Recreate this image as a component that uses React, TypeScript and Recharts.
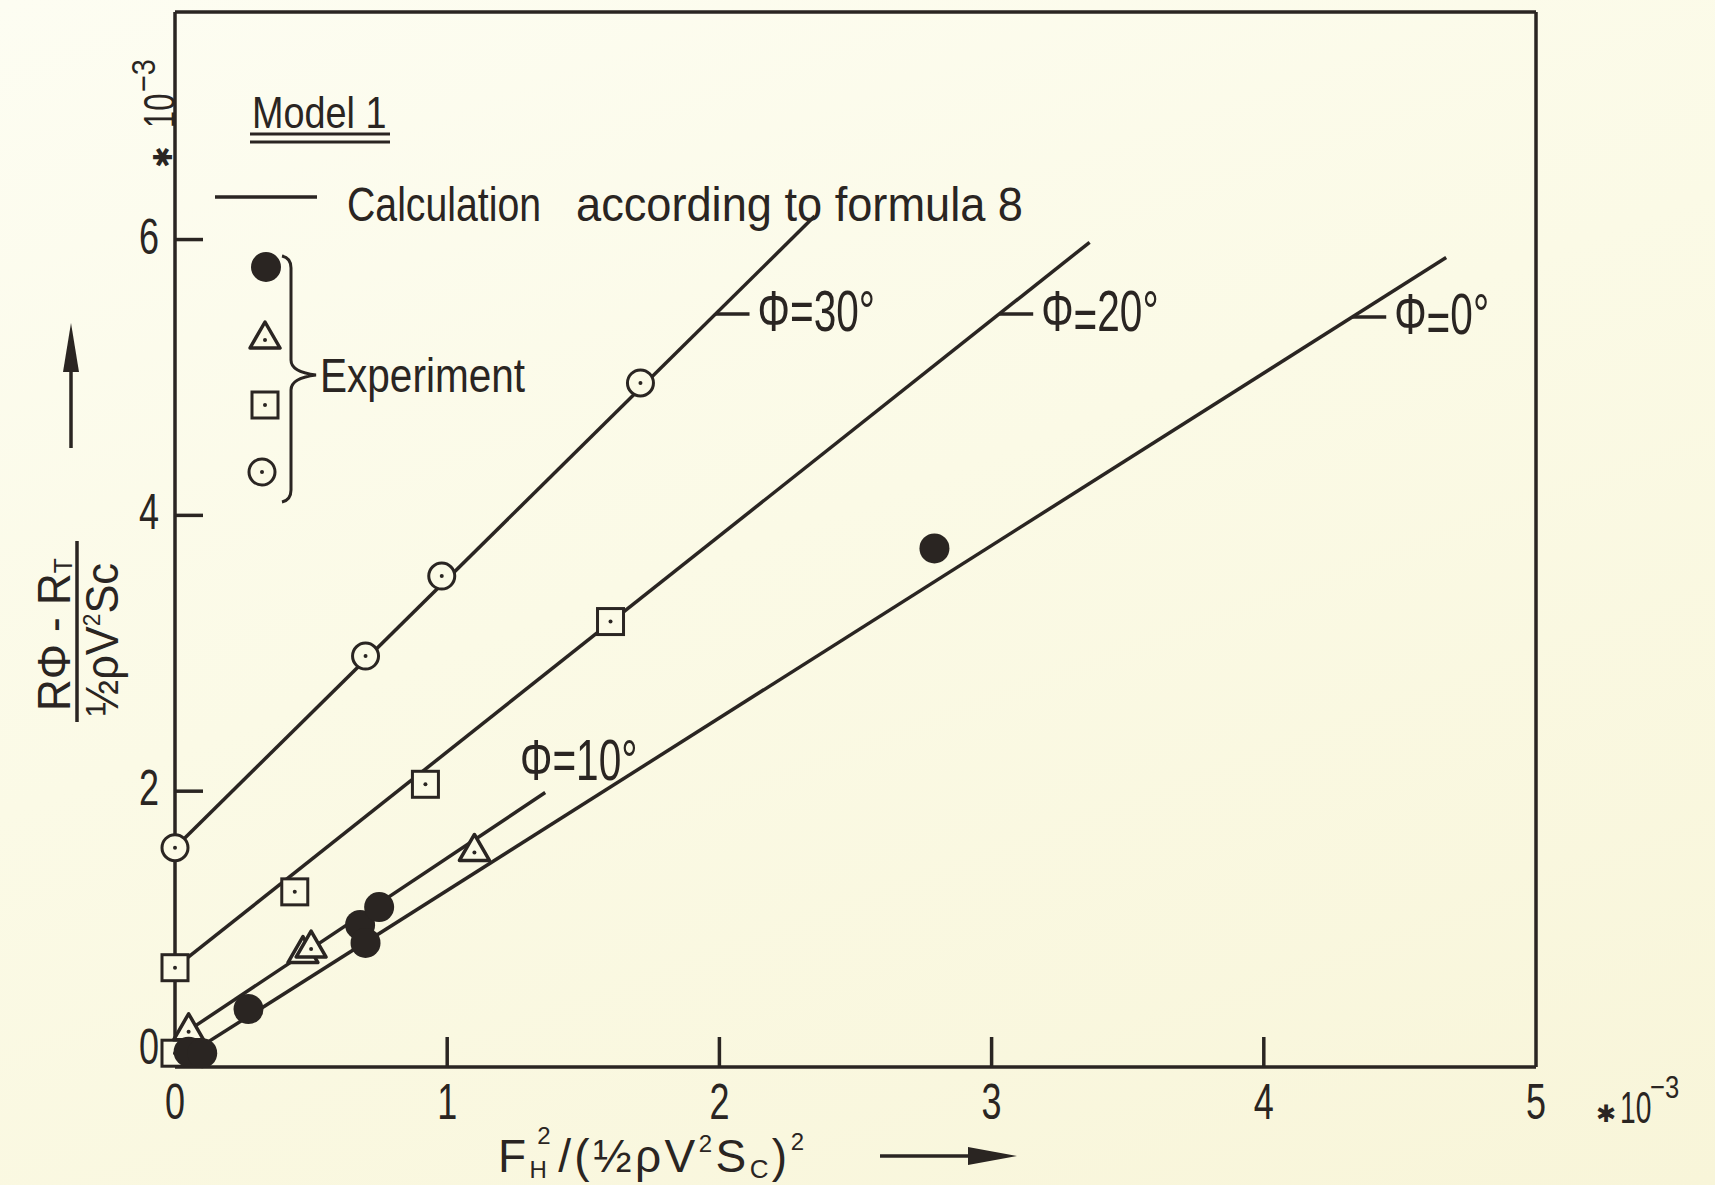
import React from "react";
import { ComposedChart, Line, Scatter, XAxis, YAxis } from "recharts";

// all values in units of 1e-3
const circles30 = [
  { x: 0, y: 1.59 },
  { x: 0.7, y: 2.98 },
  { x: 0.98, y: 3.56 },
  { x: 1.71, y: 4.96 },
];
const squares20 = [
  { x: 0, y: 0.1 },
  { x: 0, y: 0.72 },
  { x: 0.44, y: 1.27 },
  { x: 0.92, y: 2.05 },
  { x: 1.6, y: 3.23 },
];
const triangles10 = [
  { x: 0.05, y: 0.27 },
  { x: 0.47, y: 0.83 },
  { x: 0.5, y: 0.87 },
  { x: 1.1, y: 1.57 },
];
const dots0 = [
  { x: 0.05, y: 0.11 },
  { x: 0.1, y: 0.1 },
  { x: 0.27, y: 0.42 },
  { x: 0.68, y: 1.03 },
  { x: 0.7, y: 0.9 },
  { x: 0.75, y: 1.16 },
  { x: 2.79, y: 3.76 },
];

// formula 8 lines
const calc30 = [{ x: 0, y: 1.59 }, { x: 2.35, y: 6.17 }];
const calc20 = [{ x: 0, y: 0.72 }, { x: 3.36, y: 5.98 }];
const calc10 = [{ x: 0, y: 0.2 }, { x: 1.36, y: 1.99 }];
const calc0 = [{ x: 0, y: 0.03 }, { x: 4.67, y: 5.87 }];

const xTicks = [0, 1, 2, 3, 4, 5];
const xTopTicks = [1, 2, 3, 4];
const yTicks = [0, 2, 4, 6];
const yRightTicks = [2, 4, 6];

const W = 1715;
const H = 1185;
const PL = 175;
const PR = 1536;
const PT = 12;
const PB = 1067;
const XMAX = 5;
const YMAX = 7.65;

const INK = "#2a2522";
const PAPER = "#fbfae6";
const FONT = "'Liberation Sans', Arial, sans-serif";
const SW = 3.5;

const px = (v: number) => PL + (v / XMAX) * (PR - PL);
const yToVal = (p: number) => ((PB - p) / (PB - PT)) * YMAX;

// x on a calc line where it crosses a given pixel row
const xOnLine = (line: { x: number; y: number }[], yPx: number) => {
  const [a, b] = line;
  const v = yToVal(yPx);
  return a.x + ((v - a.y) * (b.x - a.x)) / (b.y - a.y);
};

// condensed lettering: squeeze glyphs horizontally
const T = ({
  x,
  y,
  size = 46,
  sx = 0.78,
  anchor = "start",
  children,
}: {
  x: number;
  y: number;
  size?: number;
  sx?: number;
  anchor?: string;
  children: React.ReactNode;
}) => (
  <text
    transform={`translate(${x} ${y}) scale(${sx} 1)`}
    fontFamily={FONT}
    fontSize={size}
    fill={INK}
    textAnchor={anchor}
  >
    {children}
  </text>
);

const FilledDot = (p: any) => <circle cx={p.cx} cy={p.cy} r={15} fill={INK} />;

const TriangleMark = (p: any) => {
  const { cx, cy } = p;
  const pts = `${cx},${cy - 16} ${cx + 15},${cy + 10} ${cx - 15},${cy + 10}`;
  return (
    <g>
      <polygon points={pts} fill={PAPER} stroke={INK} strokeWidth={3.5} strokeLinejoin="round" />
      <circle cx={cx} cy={cy + 2} r={2} fill={INK} />
    </g>
  );
};

const SquareMark = (p: any) => {
  const { cx, cy } = p;
  return (
    <g>
      <rect x={cx - 13} y={cy - 13} width={26} height={26} fill={PAPER} stroke={INK} strokeWidth={3} />
      <circle cx={cx} cy={cy} r={2} fill={INK} />
    </g>
  );
};

const RingMark = (p: any) => {
  const { cx, cy } = p;
  return (
    <g>
      <circle cx={cx} cy={cy} r={13} fill={PAPER} stroke={INK} strokeWidth={3} />
      <circle cx={cx} cy={cy} r={2} fill={INK} />
    </g>
  );
};

const BottomTick = (props: any) => {
  const { x, y, payload } = props;
  const v = payload.value;
  return (
    <g>
      {v > 0 && v < XMAX && <line x1={x} y1={y} x2={x} y2={y - 30} stroke={INK} strokeWidth={SW} />}
      <T x={x} y={y + 52} size={50} sx={0.72} anchor="middle">
        {v}
      </T>
    </g>
  );
};

const TopTick = (props: any) => {
  const { x, y } = props;
  return <line x1={x} y1={y} x2={x} y2={y + 40} stroke={INK} strokeWidth={SW} />;
};

const LeftTick = (props: any) => {
  const { x, y, payload } = props;
  const v = payload.value;
  return (
    <g>
      {v > 0 && <line x1={x} y1={y} x2={x + 28} y2={y} stroke={INK} strokeWidth={SW} />}
      <T x={x - 16} y={v === 0 ? y - 3 : y + 14} size={50} sx={0.72} anchor="end">
        {v}
      </T>
    </g>
  );
};

const RightTick = (props: any) => {
  const { x, y } = props;
  return <line x1={x} y1={y} x2={x - 33} y2={y} stroke={INK} strokeWidth={SW} />;
};

const LineLabel = ({
  line,
  yPx,
  angle,
  lowEq,
}: {
  line: { x: number; y: number }[];
  yPx: number;
  angle: string;
  lowEq?: boolean;
}) => {
  const x0 = px(xOnLine(line, yPx));
  return (
    <g>
      <line x1={x0} y1={yPx} x2={x0 + 34} y2={yPx} stroke={INK} strokeWidth={SW} />
      <T x={x0 + 42} y={yPx + 17} size={58} sx={0.7}>
        Φ<tspan dy={lowEq ? 8 : 0}>=</tspan>
        <tspan dy={lowEq ? -8 : 0}>{angle}°</tspan>
      </T>
    </g>
  );
};

const Annotations = () => (
  <svg width={W} height={H} style={{ position: "absolute", left: 0, top: 0, pointerEvents: "none" }}>
    {/* legend block */}
    <T x={252} y={128} size={44} sx={0.86}>
      Model 1
    </T>
    <line x1={250} y1={134} x2={390} y2={134} stroke={INK} strokeWidth={3} />
    <line x1={250} y1={142} x2={390} y2={142} stroke={INK} strokeWidth={3} />

    <line x1={215} y1={197} x2={317} y2={197} stroke={INK} strokeWidth={SW} />
    <text x={347} y={221} fontFamily={FONT} fontSize={48} fill={INK} textLength={194} lengthAdjust="spacingAndGlyphs">
      Calculation
    </text>
    <text x={576} y={221} fontFamily={FONT} fontSize={48} fill={INK} textLength={447} lengthAdjust="spacingAndGlyphs">
      according to formula 8
    </text>

    <FilledDot cx={266} cy={267} />
    <TriangleMark cx={265} cy={338} />
    <SquareMark cx={265} cy={405} />
    <RingMark cx={262} cy={472} />
    <path
      d="M282 256 Q291 258 291 268 L291 360 Q291 372 316 375 Q291 378 291 390 L291 490 Q291 500 282 502"
      fill="none"
      stroke={INK}
      strokeWidth={3}
    />
    <text x={320} y={392} fontFamily={FONT} fontSize={48} fill={INK} textLength={205} lengthAdjust="spacingAndGlyphs">
      Experiment
    </text>

    {/* line labels */}
    <LineLabel line={calc30} yPx={314} angle="30" />
    <LineLabel line={calc20} yPx={314} angle="20" lowEq />
    <LineLabel line={calc0} yPx={317} angle="0" lowEq />
    <T x={520} y={780} size={58} sx={0.7}>
      Φ=10°
    </T>

    {/* y scale factor */}
    <g transform="translate(175 172) rotate(-90)">
      <text x={4} y={-3} fontFamily="'DejaVu Sans', sans-serif" fontSize={26} fontWeight="bold" fill={INK}>
        ✱
      </text>
      <T x={44} y={0} size={44} sx={0.7}>
        10
      </T>
      <T x={80} y={-20} size={34} sx={0.85}>
        −3
      </T>
    </g>

    {/* x scale factor */}
    <text x={1596} y={1122} fontFamily="'DejaVu Sans', sans-serif" fontSize={24} fontWeight="bold" fill={INK}>
      ✱
    </text>
    <T x={1620} y={1123} size={44} sx={0.64}>
      10
    </T>
    <T x={1650} y={1098} size={32} sx={0.8}>
      −3
    </T>

    {/* y title */}
    <g transform="translate(77 635) rotate(-90)">
      <text x={-76} y={-7} fontFamily={FONT} fontSize={46} fill={INK} textLength={153} lengthAdjust="spacingAndGlyphs">
        RΦ - R<tspan fontSize={26} dy={2}>T</tspan>
      </text>
      <line x1={-87} y1={0} x2={94} y2={0} stroke={INK} strokeWidth={SW} />
      <text x={-81} y={41} fontFamily={FONT} fontSize={46} fill={INK} textLength={153} lengthAdjust="spacingAndGlyphs">
        ½ρV<tspan fontSize={24} dy={-18}>2</tspan>
        <tspan dy={18}>Sc</tspan>
      </text>
    </g>
    <line x1={71} y1={448} x2={71} y2={360} stroke={INK} strokeWidth={SW} />
    <polygon points="71,323 63,372 79,372" fill={INK} />

    {/* x title */}
    <text x={498} y={1172} fontFamily={FONT} fontSize={46} fill={INK} textLength={306} lengthAdjust="spacing">
      F<tspan fontSize={24} dy={6}>H</tspan>
      <tspan fontSize={24} dx={-13} dy={-34}>2</tspan>
      <tspan dx={4} dy={28}>/(½ρV</tspan>
      <tspan fontSize={24} dy={-20}>2</tspan>
      <tspan dy={20}>S</tspan>
      <tspan fontSize={26} dy={6}>C</tspan>
      <tspan dy={-6}>)</tspan>
      <tspan fontSize={24} dy={-22}>2</tspan>
    </text>
    <line x1={880} y1={1156} x2={975} y2={1156} stroke={INK} strokeWidth={SW} />
    <polygon points="1017,1156 968,1147 968,1165" fill={INK} />
  </svg>
);

const App = () => {
  return (
    <div
      style={{
        position: "absolute",
        left: 0,
        top: 0,
        width: W,
        height: H,
        background: "linear-gradient(160deg, #fdfdf2 0%, #fbfae6 45%, #f8f5d9 100%)",
        overflow: "hidden",
      }}
    >
      <ComposedChart
        width={W}
        height={H}
        margin={{ top: PT - 10, right: W - PR - 10, bottom: H - PB - 60, left: PL - 60 }}
      >
        <XAxis
          dataKey="x"
          type="number"
          domain={[0, XMAX]}
          ticks={xTicks}
          height={60}
          tickSize={0}
          tickMargin={0}
          tickLine={false}
          axisLine={{ stroke: INK, strokeWidth: SW }}
          tick={(p: any) => <BottomTick {...p} />}
        />
        <XAxis
          xAxisId="top"
          orientation="top"
          dataKey="x"
          type="number"
          domain={[0, XMAX]}
          ticks={xTopTicks}
          height={10}
          tickSize={0}
          tickMargin={0}
          tickLine={false}
          axisLine={{ stroke: INK, strokeWidth: SW }}
          tick={(p: any) => <TopTick {...p} />}
        />
        <YAxis
          dataKey="y"
          type="number"
          domain={[0, YMAX]}
          ticks={yTicks}
          width={60}
          tickSize={0}
          tickMargin={0}
          tickLine={false}
          axisLine={{ stroke: INK, strokeWidth: SW }}
          tick={(p: any) => <LeftTick {...p} />}
        />
        <YAxis
          yAxisId="right"
          orientation="right"
          dataKey="y"
          type="number"
          domain={[0, YMAX]}
          ticks={yRightTicks}
          width={10}
          tickSize={0}
          tickMargin={0}
          tickLine={false}
          axisLine={{ stroke: INK, strokeWidth: SW }}
          tick={(p: any) => <RightTick {...p} />}
        />

        <Line data={calc30} dataKey="y" type="linear" stroke={INK} strokeWidth={SW} dot={false} isAnimationActive={false} />
        <Line data={calc20} dataKey="y" type="linear" stroke={INK} strokeWidth={SW} dot={false} isAnimationActive={false} />
        <Line data={calc10} dataKey="y" type="linear" stroke={INK} strokeWidth={SW} dot={false} isAnimationActive={false} />
        <Line data={calc0} dataKey="y" type="linear" stroke={INK} strokeWidth={SW} dot={false} isAnimationActive={false} />

        <Scatter data={circles30} dataKey="y" shape={RingMark} isAnimationActive={false} />
        <Scatter data={squares20} dataKey="y" shape={SquareMark} isAnimationActive={false} />
        <Scatter data={triangles10} dataKey="y" shape={TriangleMark} isAnimationActive={false} />
        <Scatter data={dots0} dataKey="y" shape={FilledDot} isAnimationActive={false} />
      </ComposedChart>
      <Annotations />
    </div>
  );
};

export default App;
